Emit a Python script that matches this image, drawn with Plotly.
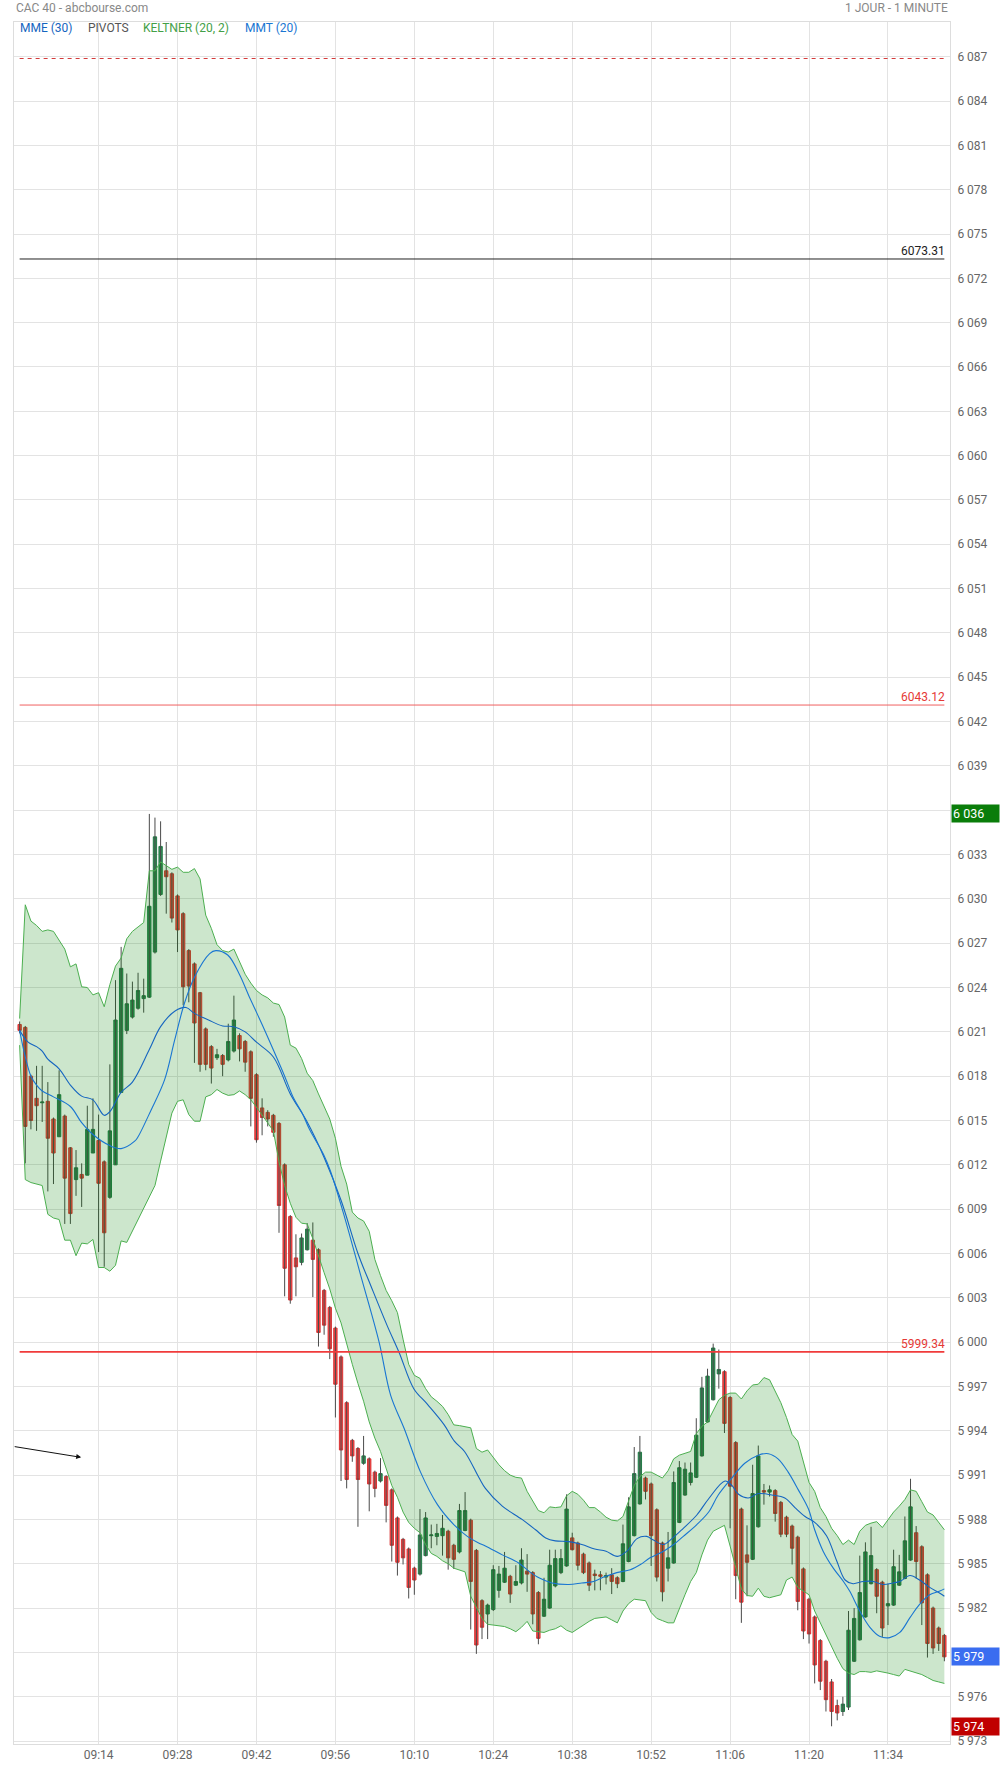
import plotly.graph_objects as go
import pandas as pd

DAY = "2024-06-14"
START = "09:00"

OPEN = [6021.5, 6021.3, 6018.0, 6016.5, 6016.2, 6016.3, 6015.1, 6013.9, 6015.3, 6013.15,
        6011.0, 6011.35, 6011.3, 6012.8, 6013.65, 6012.2, 6009.8, 6012.0, 6016.9, 6021.1,
        6022.0, 6022.6, 6023.25, 6023.35, 6026.4, 6030.3, 6031.9, 6031.7, 6030.2, 6029.0,
        6026.5, 6025.6, 6023.65, 6021.2, 6020.0, 6019.25, 6019.4, 6019.1, 6019.7, 6020.75,
        6020.35, 6019.65, 6018.1, 6015.85, 6015.55, 6015.35, 6014.8, 6012.0, 6008.5, 6005.7,
        6005.4, 6006.25, 6006.9, 6006.25, 6003.5, 6002.35, 6000.95, 5999.0, 5995.9, 5993.35,
        5992.8, 5991.8, 5992.1, 5991.2, 5990.6, 5990.9, 5990.0, 5988.1, 5986.65, 5986.0,
        5984.7, 5984.3, 5985.55, 5986.9, 5986.85, 5986.9, 5987.2, 5986.25, 5985.8, 5987.25,
        5987.95, 5985.9, 5982.5, 5981.6, 5981.9, 5983.2, 5983.75, 5984.15, 5983.55, 5983.7,
        5984.5, 5984.4, 5983.05, 5981.45, 5982.0, 5983.5, 5984.4, 5984.85, 5986.75, 5986.4,
        5985.65, 5985.05, 5984.3, 5984.25, 5984.1, 5984.25, 5984.05, 5983.8, 5985.15, 5986.9,
        5989.05, 5990.8, 5990.4, 5988.65, 5986.4, 5984.7, 5985.05, 5987.8, 5989.65, 5990.5,
        5990.85, 5992.3, 5994.6, 5996.1, 5997.85, 5998.0, 5996.25, 5993.2, 5988.7, 5985.6,
        5985.3, 5987.5, 5989.95, 5989.85, 5989.95, 5989.15, 5988.15, 5987.55, 5986.8, 5984.65,
        5982.6, 5981.4, 5979.8, 5978.4, 5977.0, 5975.4, 5975.0, 5975.3, 5978.4, 5979.85,
        5981.4, 5983.65, 5984.6, 5983.75, 5982.15, 5982.2, 5983.55, 5984.0, 5985.25, 5987.1,
        5986.15, 5984.25, 5982.0, 5980.65, 5980.15]

HIGH = [6021.7, 6021.4, 6018.1, 6018.7, 6018.7, 6017.6, 6015.2, 6018.4, 6015.4, 6013.2,
        6013.0, 6012.1, 6016.0, 6016.5, 6015.4, 6012.3, 6018.8, 6024.5, 6026.75, 6024.95,
        6024.4, 6025.0, 6024.6, 6035.75, 6035.5, 6035.25, 6033.85, 6031.8, 6030.3, 6029.1,
        6026.6, 6025.7, 6023.7, 6021.3, 6020.1, 6019.85, 6019.5, 6021.55, 6023.45, 6020.9,
        6020.45, 6019.75, 6018.2, 6016.5, 6015.7, 6015.45, 6014.9, 6012.1, 6008.6, 6007.3,
        6007.35, 6008.05, 6008.1, 6006.35, 6003.6, 6002.45, 6001.05, 5999.1, 5996.0, 5993.45,
        5992.9, 5993.65, 5992.2, 5991.3, 5992.15, 5991.0, 5990.1, 5988.2, 5986.75, 5986.1,
        5984.8, 5988.7, 5988.5, 5987.65, 5987.7, 5988.3, 5987.3, 5986.35, 5989.05, 5989.85,
        5988.05, 5986.0, 5982.6, 5982.3, 5984.9, 5984.85, 5985.8, 5984.25, 5984.9, 5986.05,
        5985.65, 5984.5, 5983.15, 5984.05, 5985.95, 5985.95, 5986.0, 5989.7, 5987.1, 5986.5,
        5985.75, 5985.15, 5984.6, 5984.5, 5984.4, 5984.7, 5984.15, 5987.65, 5989.5, 5992.9,
        5993.65, 5990.9, 5990.5, 5988.75, 5986.5, 5987.15, 5991.25, 5991.95, 5991.85, 5991.85,
        5994.85, 5997.65, 5998.2, 5999.9, 5999.5, 5998.1, 5996.35, 5993.3, 5988.8, 5987.6,
        5991.7, 5993.0, 5990.4, 5990.3, 5990.05, 5989.25, 5988.25, 5987.65, 5986.9, 5984.75,
        5982.7, 5981.5, 5979.9, 5978.5, 5977.2, 5975.8, 5976.0, 5981.8, 5982.0, 5985.55,
        5986.45, 5987.5, 5984.7, 5983.85, 5983.65, 5985.95, 5985.6, 5988.2, 5990.75, 5987.55,
        5986.25, 5984.35, 5982.1, 5980.75, 5980.25]

LOW = [6020.9, 6012.1, 6014.4, 6014.3, 6014.9, 6010.2, 6010.7, 6013.9, 6008.0, 6008.0,
       6009.9, 6009.15, 6011.3, 6012.8, 6006.1, 6005.1, 6009.7, 6012.0, 6016.9, 6020.85,
       6021.9, 6022.5, 6022.3, 6023.3, 6026.3, 6030.2, 6029.0, 6028.4, 6026.4, 6022.8,
       6023.0, 6018.9, 6018.3, 6018.4, 6017.5, 6019.1, 6018.0, 6019.0, 6019.6, 6019.0,
       6018.3, 6014.6, 6013.5, 6014.0, 6014.6, 6013.9, 6007.4, 6003.1, 6002.6, 6003.1,
       6005.2, 6006.2, 6003.05, 5999.7, 6000.5, 5998.85, 5994.9, 5990.6, 5990.1, 5991.9,
       5987.5, 5991.7, 5988.55, 5989.5, 5990.5, 5987.8, 5985.15, 5984.2, 5984.95, 5982.65,
       5982.9, 5984.2, 5985.5, 5986.05, 5986.25, 5985.55, 5984.6, 5984.65, 5985.7, 5987.2,
       5980.55, 5978.9, 5979.9, 5979.9, 5981.8, 5982.7, 5983.7, 5982.35, 5983.5, 5983.6,
       5983.1, 5980.9, 5979.55, 5981.4, 5981.95, 5983.4, 5984.3, 5984.8, 5985.9, 5984.55,
       5984.3, 5983.15, 5983.2, 5983.2, 5983.6, 5982.95, 5983.35, 5983.75, 5985.1, 5986.85,
       5989.0, 5989.35, 5984.85, 5983.8, 5982.45, 5983.8, 5985.0, 5987.75, 5989.6, 5990.3,
       5990.8, 5992.25, 5994.55, 5996.05, 5996.85, 5993.85, 5987.4, 5982.6, 5981.0, 5982.8,
       5985.25, 5987.45, 5989.0, 5989.55, 5987.85, 5986.8, 5986.8, 5984.95, 5981.85, 5979.9,
       5979.6, 5976.9, 5976.45, 5975.0, 5974.0, 5974.4, 5974.7, 5975.1, 5978.35, 5979.8,
       5981.35, 5983.6, 5981.65, 5980.05, 5980.85, 5982.15, 5983.5, 5983.95, 5985.2, 5984.0,
       5980.85, 5978.65, 5978.9, 5979.1, 5978.4]

CLOSE = [6021.1, 6014.6, 6015.0, 6016.0, 6016.25, 6013.8, 6012.8, 6016.75, 6011.1, 6008.7,
         6011.8, 6011.1, 6014.4, 6014.4, 6010.75, 6007.4, 6014.3, 6021.8, 6025.3, 6022.9,
         6023.15, 6023.8, 6023.45, 6029.5, 6034.2, 6033.55, 6031.5, 6028.7, 6027.9, 6024.05,
         6024.1, 6021.6, 6018.8, 6018.8, 6018.55, 6019.45, 6018.8, 6020.35, 6021.8, 6019.85,
         6018.95, 6016.5, 6013.7, 6015.2, 6015.1, 6014.2, 6009.25, 6005.0, 6002.85, 6005.1,
         6007.05, 6007.65, 6005.6, 6000.65, 6001.15, 5999.55, 5997.15, 5992.7, 5990.7, 5992.3,
         5990.7, 5992.3, 5990.4, 5990.1, 5991.1, 5988.95, 5986.25, 5985.1, 5985.4, 5983.4,
         5983.9, 5986.95, 5988.1, 5986.95, 5987.05, 5987.4, 5985.4, 5985.3, 5988.6, 5988.6,
         5983.8, 5979.5, 5980.7, 5982.2, 5984.6, 5984.3, 5984.7, 5982.95, 5983.8, 5985.25,
         5984.3, 5981.6, 5979.95, 5982.6, 5984.9, 5985.35, 5985.35, 5988.7, 5985.95, 5984.9,
         5984.4, 5983.55, 5984.2, 5984.15, 5984.2, 5983.8, 5983.65, 5986.35, 5988.85, 5991.1,
         5992.55, 5989.9, 5986.9, 5984.1, 5983.1, 5985.4, 5990.5, 5991.5, 5991.4, 5991.15,
         5993.7, 5996.9, 5997.7, 5999.6, 5998.15, 5994.5, 5990.25, 5984.2, 5982.4, 5985.1,
         5989.75, 5992.3, 5989.85, 5990.0, 5988.4, 5987.0, 5987.0, 5986.05, 5982.45, 5980.45,
         5980.25, 5978.15, 5977.05, 5975.8, 5975.0, 5974.9, 5975.5, 5980.5, 5981.3, 5983.05,
         5985.8, 5985.55, 5982.8, 5980.65, 5982.3, 5984.8, 5984.45, 5986.55, 5988.85, 5985.15,
         5982.35, 5979.6, 5979.3, 5979.6, 5978.7]

KELTNER_UP = [6021.9, 6029.6, 6028.5, 6028.2, 6027.8, 6027.9, 6027.8, 6027.2, 6026.6, 6025.4,
              6025.6, 6024.05, 6024.0, 6023.5, 6023.65, 6022.7, 6024.2, 6025.45, 6026.0, 6027.3,
              6027.8, 6028.1, 6028.4, 6031.9, 6031.9, 6032.5, 6032.25, 6032.0, 6032.15, 6031.8,
              6031.8, 6032.05, 6031.35, 6028.9, 6028.0, 6026.9, 6026.5, 6026.4, 6026.6, 6025.7,
              6024.9, 6024.3, 6023.8, 6023.5, 6023.3, 6022.95, 6022.85, 6022.0, 6020.1, 6019.9,
              6019.2, 6018.2, 6017.7, 6016.8, 6015.9, 6015.1, 6013.8, 6011.9, 6010.7, 6008.8,
              6008.4, 6008.2, 6007.5, 6005.6, 6004.5, 6003.5, 6002.8, 6002.0, 6000.2, 5998.5,
              5997.75, 5997.55, 5996.85, 5996.3, 5996.0, 5995.65, 5995.1, 5994.4, 5994.35, 5994.3,
              5994.2, 5992.8, 5992.55, 5992.7, 5992.2, 5991.7, 5991.3, 5991.0, 5990.85, 5990.8,
              5989.9, 5989.2, 5988.6, 5988.45, 5988.85, 5988.8, 5988.85, 5989.6, 5989.9, 5989.7,
              5989.3, 5988.8, 5988.8, 5988.5, 5988.15, 5987.95, 5987.9, 5988.2, 5989.3, 5990.3,
              5990.9, 5991.2, 5991.2, 5991.0, 5990.8, 5991.3, 5992.1, 5992.35, 5992.5, 5992.6,
              5993.8, 5994.3, 5994.6, 5995.4, 5996.1, 5996.4, 5996.55, 5996.55, 5996.15, 5996.7,
              5997.1, 5997.15, 5997.6, 5997.45, 5996.7, 5995.9, 5994.9, 5993.75, 5993.3, 5991.9,
              5990.5, 5989.9, 5988.8, 5988.2, 5987.4, 5986.9, 5986.3, 5986.6, 5986.3, 5987.2,
              5987.6, 5987.75, 5987.85, 5987.45, 5988.0, 5988.5, 5988.9, 5989.35, 5990.0, 5989.9,
              5989.2, 5988.5, 5988.3, 5987.8, 5987.3]

KELTNER_LO = [6020.1, 6011.0, 6010.8, 6010.7, 6010.6, 6008.65, 6008.4, 6008.3, 6006.9, 6006.9,
              6005.85, 6006.7, 6006.65, 6006.95, 6005.05, 6005.05, 6004.8, 6005.2, 6006.85, 6006.75,
              6007.5, 6008.3, 6009.0, 6009.8, 6010.6, 6012.25, 6013.95, 6015.5, 6016.3, 6016.4,
              6015.4, 6014.95, 6014.95, 6016.6, 6016.75, 6017.1, 6016.85, 6016.7, 6016.75, 6017.0,
              6016.75, 6016.4, 6015.9, 6015.35, 6014.8, 6014.3, 6012.2, 6010.6, 6009.4, 6008.45,
              6008.05, 6008.0, 6007.0, 6005.8, 6004.7, 6003.6, 6002.3, 6001.3, 5999.8, 5998.5,
              5997.2, 5996.0, 5994.6, 5993.5, 5992.6, 5991.5, 5990.3, 5989.5, 5988.5, 5987.8,
              5987.4, 5987.1, 5986.3, 5985.7, 5985.5, 5985.2, 5985.0, 5984.7, 5984.6, 5984.45,
              5982.8, 5982.1, 5981.3, 5980.9, 5980.85, 5980.8, 5980.75, 5980.6, 5980.4, 5980.7,
              5981.1, 5980.45, 5980.4, 5980.35, 5980.5, 5980.6, 5980.8, 5980.5, 5980.35, 5980.6,
              5980.9, 5981.1, 5981.3, 5981.35, 5981.4, 5981.2, 5981.0, 5981.8, 5982.3, 5982.6,
              5982.55, 5982.5, 5981.7, 5981.3, 5981.15, 5981.0, 5981.0, 5982.0, 5982.9, 5983.8,
              5984.4, 5985.6, 5986.6, 5987.2, 5987.4, 5987.6, 5986.2, 5984.7, 5983.3, 5982.85,
              5982.8, 5983.35, 5982.8, 5982.7, 5982.8, 5982.9, 5983.9, 5984.1, 5983.4, 5983.15,
              5982.9, 5981.8, 5981.0, 5980.2, 5979.3, 5978.6, 5977.9, 5977.6, 5977.5, 5977.7,
              5977.7, 5977.65, 5977.75, 5977.7, 5977.6, 5977.5, 5977.4, 5977.85, 5977.75, 5977.65,
              5977.5, 5977.3, 5977.1, 5977.0, 5976.9]

# moving averages (minutes after 09:00, value)
MME_MIN = [0, 1.5, 3, 4, 5, 7, 9, 11, 13, 15, 16, 18, 20, 23, 25, 27.5, 29.5, 31, 33.5, 36,
           38, 40, 42, 45, 48, 51, 54, 57, 60, 62.3, 65.2, 67.3, 69.9, 72.3, 75.3, 77.1, 78.9,
           81.5, 82.6, 85.6, 89.1, 91.5, 93.3, 95, 97.4, 99.7, 102, 104, 106, 107.7, 109.5,
           111.2, 112.4, 114.2, 115.7, 117.7, 120.1, 122.2, 125.1, 126.3, 127.5, 129.2, 131,
           133.4, 135.7, 137.5, 139.3, 141, 143.1, 144.9, 146.4, 147.8, 149.6, 151.4, 153.1,
           154.9, 156.1, 157.9, 159.6, 161.4, 163.2, 164]
MME_VAL = [6021.1, 6020.3, 6020.0, 6019.7, 6019.15, 6018.5, 6017.4, 6016.65, 6016.4, 6015.35,
           6015.6, 6016.9, 6017.6, 6019.8, 6021.35, 6022.4, 6022.65, 6022.25, 6021.8, 6021.4,
           6021.35, 6021.0, 6020.3, 6019.3, 6016.8, 6014.9, 6012.5, 6009.6, 6006.0, 6003.8,
           6001.1, 5999.3, 5996.85, 5995.8, 5994.4, 5993.3, 5992.6, 5990.8, 5990.1, 5988.9,
           5988.0, 5987.3, 5986.75, 5986.55, 5986.5, 5986.3, 5986.0, 5985.85, 5985.5, 5985.85,
           5986.7, 5986.85, 5986.6, 5986.3, 5986.7, 5987.4, 5988.3, 5989.4, 5990.6, 5990.3,
           5989.7, 5989.45, 5989.75, 5989.65, 5989.45, 5988.8, 5988.2, 5987.8, 5986.9, 5985.2,
           5983.9, 5983.65, 5983.8, 5983.8, 5983.6, 5983.7, 5983.8, 5984.2, 5983.9, 5983.4,
           5983.0, 5982.8]

MMT_MIN = [0, 1, 2, 3, 4, 6, 9, 11, 13, 16, 18, 20.4, 21, 23.3, 25.7, 27.5, 29.2, 31, 33.7, 34.8,
           36.9, 38.9, 40.7, 43, 45.2, 47, 48.6, 50.1, 51.4, 53.9, 55.1, 57.6, 60.5, 63.75, 65.8,
           68.2, 71.1, 74.1, 77, 79.4, 81.4, 82.6, 85.6, 88.5, 90.3, 92.1, 94.4, 97.4, 99.7,
           101.8, 103.6, 105.9, 108.3, 110.1, 111.8, 114.2, 116, 117.7, 120.1, 122.2, 123.9,
           126.3, 128.6, 131, 132.8, 134.5, 136.3, 138.1, 139.9, 141, 142.5, 144.3, 146.1,
           147.2, 149, 150.8, 152.5, 154.3, 156.1, 157.9, 159.6, 161.4, 163.2, 164]
MMT_VAL = [6021.1, 6019.3, 6018.0, 6017.4, 6017.0, 6016.6, 6015.95, 6014.85, 6014.05, 6013.3,
           6013.1, 6013.6, 6013.9, 6015.7, 6017.75, 6020.45, 6022.9, 6024.7, 6026.3, 6026.5,
           6026.2, 6024.95, 6023.4, 6021.5, 6019.6, 6018.0, 6016.5, 6015.5, 6014.4, 6012.7,
           6011.6, 6008.5, 6004.5, 6000.0, 5996.4, 5994.15, 5991.2, 5989.0, 5987.65, 5986.85,
           5986.4, 5986.2, 5985.6, 5985.05, 5984.5, 5984.05, 5983.7, 5983.6, 5983.7, 5983.8,
           5984.1, 5984.4, 5984.6, 5984.95, 5985.4, 5985.85, 5986.3, 5986.85, 5987.65, 5988.5,
           5989.65, 5990.8, 5991.8, 5992.35, 5992.45, 5992.1, 5991.2, 5990.0, 5988.7, 5987.3,
           5985.85, 5984.7, 5983.8, 5983.15, 5981.8, 5980.7, 5980.1, 5980.0, 5980.35, 5981.35,
           5982.25, 5982.9, 5983.15, 5983.3]

PIVOT_LEVELS = [6086.88, 6073.31, 6043.12, 5999.34]
PIVOT_LABELS = ["", "6073.31", "6043.12", "5999.34"]

X_TICK_LABELS = ["09:14", "09:28", "09:42", "09:56", "10:10", "10:24", "10:38",
                 "10:52", "11:06", "11:20", "11:34"]
Y_MIN, Y_MAX, Y_STEP = 5973, 6087, 3

ARROW_TIME = "09:10:55"
ARROW_VALUE = 5992.2

# ---------------------------------------------------------------------------
W, H = 1000, 1774
ML, MR, MT, MB = 14, 48, 22, 24
PW, PH = W - ML - MR, H - MT - MB


def px_x(p):
    return (p - ML) / PW


def px_y(p):
    return (H - MB - p) / PH


FONT = "Roboto"
times = pd.date_range(f"{DAY} {START}", periods=len(OPEN), freq="min")
t0 = pd.Timestamp(f"{DAY} {START}")
mme_x = [t0 + pd.Timedelta(minutes=m) for m in MME_MIN]
mmt_x = [t0 + pd.Timedelta(minutes=m) for m in MMT_MIN]

fig = go.Figure()

# wicks
wx, wy = [], []
for t, lo, hi in zip(times, LOW, HIGH):
    wx += [t, t, None]
    wy += [lo, hi, None]
fig.add_trace(go.Scatter(x=wx, y=wy, mode="lines", line=dict(color="#4a4a4a", width=1),
                         hoverinfo="skip"))

# bodies
body_hi = [max(o, c) for o, c in zip(OPEN, CLOSE)]
body_lo = [min(o, c) for o, c in zip(OPEN, CLOSE)]
fig.add_trace(go.Candlestick(
    x=times, open=OPEN, high=body_hi, low=body_lo, close=CLOSE,
    increasing=dict(fillcolor="#2f8d55", line=dict(color="#257a48", width=1)),
    decreasing=dict(fillcolor="#f94545", line=dict(color="#d83434", width=1)),
    whiskerwidth=0, hoverinfo="skip"))

# Keltner band (drawn over candles)
fig.add_trace(go.Scatter(x=times, y=KELTNER_LO, mode="lines",
                         line=dict(color="#4caf50", width=1), hoverinfo="skip"))
fig.add_trace(go.Scatter(x=times, y=KELTNER_UP, mode="lines", fill="tonexty",
                         fillcolor="rgba(0,128,0,0.2)",
                         line=dict(color="#4caf50", width=1), hoverinfo="skip"))

# moving averages
fig.add_trace(go.Scatter(x=mme_x, y=MME_VAL, mode="lines", line_shape="spline",
                         line=dict(color="#1565c0", width=1.1), hoverinfo="skip"))
fig.add_trace(go.Scatter(x=mmt_x, y=MMT_VAL, mode="lines", line_shape="spline",
                         line=dict(color="#1976d2", width=1.1), hoverinfo="skip"))

# pivots
pivot_styles = [dict(color="#d33a3a", width=1, dash="4px,4px"),
                dict(color="#222222", width=1),
                dict(color="#f06060", width=1),
                dict(color="#f03b3b", width=1.6)]
pivot_text_colors = ["#e53935", "#222222", "#e53935", "#e53935"]
for lvl, st in zip(PIVOT_LEVELS, pivot_styles):
    fig.add_trace(go.Scatter(x=[times[0], times[-1]], y=[lvl, lvl], mode="lines",
                             line=st, hoverinfo="skip"))

annotations = []
for lvl, lab, col in zip(PIVOT_LEVELS, PIVOT_LABELS, pivot_text_colors):
    if lab:
        annotations.append(dict(x=times[-1], y=lvl, xref="x", yref="y", text=lab,
                                showarrow=False, xanchor="right", yanchor="bottom",
                                xshift=3, yshift=-1, font=dict(family=FONT, size=12, color=col)))


def fmt(v):
    return f"{round(v):,}".replace(",", " ")


tags = [(max(HIGH), "#0a7d0a"), (CLOSE[-1], "#3a6df0"), (min(LOW), "#c00000")]
for val, bg in tags:
    annotations.append(dict(x=1, y=val, xref="paper", yref="y", text=fmt(val),
                            showarrow=False, xanchor="left", yanchor="middle", xshift=1,
                            align="left", bgcolor=bg, width=45, height=15, borderpad=1,
                            font=dict(family=FONT, size=12.5, color="white")))

# arrow
annotations.append(dict(x=pd.Timestamp(f"{DAY} {ARROW_TIME}"), y=ARROW_VALUE, xref="x", yref="y",
                        text="", showarrow=True, ax=-68, ay=-11, arrowhead=2, arrowsize=1,
                        arrowwidth=1, arrowcolor="#111111"))

# header
annotations.append(dict(x=px_x(14), y=px_y(8), xref="paper", yref="paper",
                        text="CAC 40 - abcbourse.com", showarrow=False, xanchor="left",
                        yanchor="middle", font=dict(family=FONT, size=12, color="#888888")))
annotations.append(dict(x=px_x(951.5), y=px_y(8), xref="paper", yref="paper",
                        text="1 JOUR - 1 MINUTE", showarrow=False, xanchor="right",
                        yanchor="middle", font=dict(family=FONT, size=12, color="#888888")))
legend_items = [("MME (30)", "#1565c0", 18), ("PIVOTS", "#555555", 86),
                ("KELTNER (20, 2)", "#43a047", 141), ("MMT (20)", "#1976d2", 243)]
for txt, col, xp in legend_items:
    annotations.append(dict(x=px_x(xp), y=px_y(28), xref="paper", yref="paper", text=txt,
                            showarrow=False, xanchor="left", yanchor="middle",
                            font=dict(family=FONT, size=12, color=col)))

# y tick labels hidden where an opaque value tag covers them
y_ticks = list(range(Y_MIN, Y_MAX + 1, Y_STEP))
tag_vals = [v for v, _ in tags]
y_ticktext = ["" if any(abs(v - tv) < 0.9 for tv in tag_vals) else fmt(v) for v in y_ticks]
x_tickvals = [pd.Timestamp(f"{DAY} {t}") for t in X_TICK_LABELS]

fig.update_layout(
    width=W, height=H,
    margin=dict(l=ML, r=MR, t=MT, b=MB, pad=0),
    paper_bgcolor="white", plot_bgcolor="white",
    showlegend=False, hovermode=False,
    boxgap=0.16,
    font=dict(family=FONT, size=12, color="#666666"),
    annotations=annotations,
    xaxis=dict(type="date", range=[t0 - pd.Timedelta(minutes=1), times[-1] + pd.Timedelta(minutes=1)],
               tickvals=x_tickvals, ticktext=X_TICK_LABELS,
               showgrid=True, gridcolor="#e3e3e3", gridwidth=1,
               showline=True, linecolor="#dddddd", mirror=True,
               ticks="", zeroline=False, rangeslider=dict(visible=False),
               tickfont=dict(family=FONT, size=12, color="#666666")),
    yaxis=dict(side="right", range=[5972.8, 6089.35],
               tickvals=y_ticks, ticktext=y_ticktext,
               showgrid=True, gridcolor="#e3e3e3", gridwidth=1,
               showline=True, linecolor="#dddddd", mirror=True,
               ticks="", zeroline=False, ticklabelstandoff=4,
               tickfont=dict(family=FONT, size=12, color="#666666")),
)

fig.write_html(
    "out.html",
    config={"displayModeBar": False, "staticPlot": True},
    post_script="document.body.style.margin='0';document.body.style.padding='0';"
                "document.documentElement.style.overflow='hidden';",
)
